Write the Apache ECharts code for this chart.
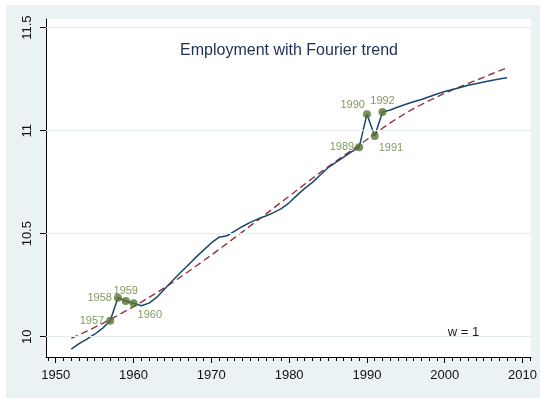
<!DOCTYPE html>
<html>
<head>
<meta charset="utf-8">
<script src="https://cdn.jsdelivr.net/npm/echarts@6/dist/echarts.min.js"></script>
<style>
  html, body { margin: 0; padding: 0; background: #ffffff; }
  #chart { width: 540px; height: 398px; }
</style>
</head>
<body>
<div id="chart"></div>
<script>
// Annual observations, 1952-2008
const years = [
  1952, 1953, 1954, 1955, 1956, 1957, 1958, 1959, 1960, 1961,
  1962, 1963, 1964, 1965, 1966, 1967, 1968, 1969, 1970, 1971,
  1972, 1973, 1974, 1975, 1976, 1977, 1978, 1979, 1980, 1981,
  1982, 1983, 1984, 1985, 1986, 1987, 1988, 1989, 1990, 1991,
  1992, 1993, 1994, 1995, 1996, 1997, 1998, 1999, 2000, 2001,
  2002, 2003, 2004, 2005, 2006, 2007, 2008
];

// Log employment
const employment = [
  9.940, 9.966, 9.988, 10.012, 10.040, 10.078, 10.189, 10.173, 10.162, 10.150,
  10.163, 10.192, 10.232, 10.272, 10.310, 10.347, 10.385, 10.420, 10.455, 10.483,
  10.490, 10.512, 10.535, 10.555, 10.572, 10.586, 10.602, 10.622, 10.650, 10.686,
  10.720, 10.749, 10.785, 10.820, 10.846, 10.872, 10.897, 10.919, 11.080, 10.974,
  11.091, 11.100, 11.115, 11.128, 11.140, 11.151, 11.165, 11.178, 11.190, 11.200,
  11.210, 11.220, 11.228, 11.236, 11.244, 11.251, 11.257
];

// Fitted Fourier trend
const fourierTrend = [
  9.992, 10.009, 10.027, 10.045, 10.064, 10.084, 10.104, 10.125, 10.146, 10.168,
  10.191, 10.214, 10.238, 10.263, 10.289, 10.315, 10.342, 10.369, 10.396, 10.424,
  10.452, 10.481, 10.509, 10.538, 10.566, 10.595, 10.624, 10.653, 10.682, 10.711,
  10.740, 10.769, 10.797, 10.825, 10.851, 10.878, 10.904, 10.930, 10.957, 10.984,
  11.012, 11.038, 11.062, 11.085, 11.107, 11.127, 11.146, 11.164, 11.181, 11.198,
  11.214, 11.229, 11.244, 11.259, 11.275, 11.290, 11.305
];

// Years highlighted with a marker and a label
const labeledYears = [1957, 1958, 1959, 1960, 1989, 1990, 1991, 1992];

// Axis tick labels
const xTickLabels = [1950, 1960, 1970, 1980, 1990, 2000, 2010];
const yTickLabels = [10, 10.5, 11, 11.5];

// Yearly minor ticks along the time axis
const minorYears = [];
for (let y = 1949; y <= 2011; y++) minorYears.push(y);

// Where each marker label sits relative to its marker
const labelPlacement = {
  1957: { position: 'left', distance: 2 },
  1958: { position: 'left', distance: 2 },
  1959: { position: 'top', distance: 1 },
  1960: { position: 'right', distance: 0, offset: [0, 12] },
  1989: { position: 'left', distance: 1 },
  1990: { position: 'left', distance: -2, offset: [0, -9] },
  1991: { position: 'right', distance: 0, offset: [0, 12] },
  1992: { position: 'top', distance: 1 }
};

const FONT = 'Liberation Sans, Arial, Helvetica, sans-serif';
const X_MIN = 1948.75, X_MAX = 2011.1;
const Y_MIN = 9.9015, Y_MAX = 11.542;

const employmentData = years.map((y, i) => [y, employment[i]]);
const trendData = years.map((y, i) => [y, fourierTrend[i]]);
const markerData = labeledYears.map(yr => {
  const i = years.indexOf(yr);
  const p = labelPlacement[yr];
  return {
    value: [yr, employment[i]],
    label: Object.assign({ show: true, formatter: String(yr) }, p)
  };
});

const chart = echarts.init(document.getElementById('chart'), null, { renderer: 'canvas' });

chart.setOption({
  animation: false,
  backgroundColor: '#eaf2f3',
  textStyle: { fontFamily: FONT },
  graphic: [
    { type: 'rect', shape: { x: 0, y: 0, width: 6, height: 398 }, style: { fill: '#ffffff' }, silent: true },
    { type: 'rect', shape: { x: 0, y: 0, width: 540, height: 5 }, style: { fill: '#ffffff' }, silent: true },
    {
      type: 'text', x: 289, y: 51, silent: true, z: 100,
      style: {
        text: 'Employment with Fourier trend',
        textAlign: 'center', textVerticalAlign: 'middle',
        fontSize: 16, fontFamily: FONT, fill: '#1e2f52'
      }
    },
    {
      type: 'text', x: 463.5, y: 332, silent: true, z: 100,
      style: {
        text: 'w = 1',
        textAlign: 'center', textVerticalAlign: 'middle',
        fontSize: 13, fontFamily: FONT, fill: '#1a1a1a'
      }
    }
  ],
  grid: {
    left: 46, right: 8, top: 19, bottom: 41,
    show: true, backgroundColor: '#ffffff', borderWidth: 0
  },
  xAxis: [
    {
      type: 'value', min: X_MIN, max: X_MAX, position: 'bottom',
      axisLine: { show: true, onZero: false, lineStyle: { color: '#000000', width: 1 } },
      axisTick: { show: true, customValues: minorYears, length: 4, lineStyle: { color: '#000000' } },
      axisLabel: { show: false },
      splitLine: { show: false }
    },
    {
      type: 'value', min: X_MIN, max: X_MAX, position: 'bottom',
      axisLine: { show: false, onZero: false },
      axisTick: { show: true, customValues: xTickLabels, length: 6, lineStyle: { color: '#000000' } },
      axisLabel: {
        show: true, customValues: xTickLabels, margin: 12,
        fontSize: 13, fontFamily: FONT, color: '#111111',
        formatter: v => String(v)
      },
      splitLine: { show: false }
    }
  ],
  yAxis: {
    type: 'value', min: Y_MIN, max: Y_MAX,
    axisLine: { show: true, onZero: false, lineStyle: { color: '#000000', width: 1 } },
    axisTick: { show: true, customValues: yTickLabels, length: 6, lineStyle: { color: '#000000' } },
    axisLabel: {
      show: true, customValues: yTickLabels, rotate: 90, margin: 12,
      fontSize: 13, fontFamily: FONT, color: '#111111',
      formatter: v => String(v)
    },
    splitLine: { show: false }
  },
  series: [
    {
      // horizontal grid lines at the labelled y values
      name: 'grid', type: 'line', data: [], z: 1, silent: true,
      markLine: {
        silent: true, symbol: ['none', 'none'], label: { show: false },
        lineStyle: { color: '#e4ecee', width: 1, type: 'solid' },
        data: yTickLabels.map(v => ({ yAxis: v }))
      }
    },
    {
      name: 'Fourier trend', type: 'line', data: trendData, z: 2,
      showSymbol: false, symbol: 'none',
      lineStyle: { color: '#90353b', width: 1.4, type: [7, 4] }
    },
    {
      name: 'Employment', type: 'line', data: employmentData, z: 3,
      showSymbol: false, symbol: 'none',
      lineStyle: { color: '#1a476f', width: 1.5 }
    },
    {
      name: 'Highlighted years', type: 'scatter', data: markerData, z: 4,
      symbol: 'circle', symbolSize: 8,
      itemStyle: { color: '#55752f' },
      label: { show: true, fontSize: 11, fontFamily: FONT, color: '#5f7f35' }
    }
  ]
});
</script>
</body>
</html>
